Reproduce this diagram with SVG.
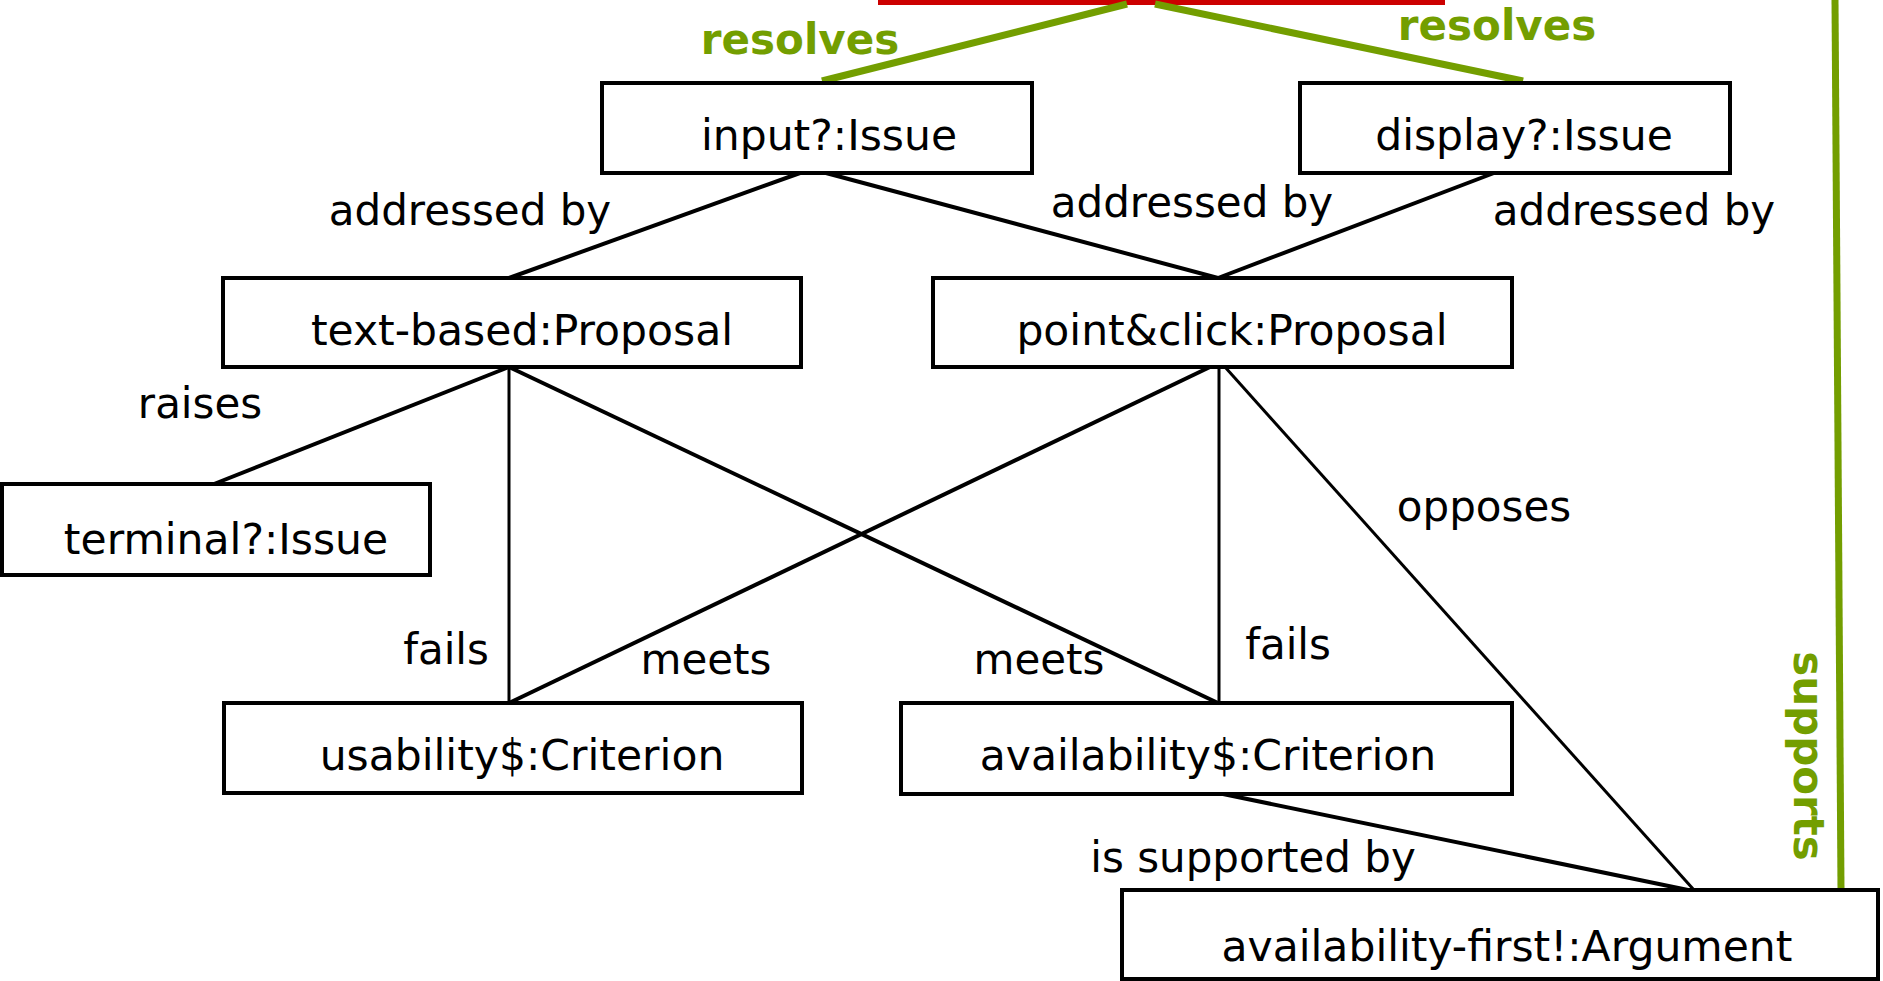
<svg xmlns="http://www.w3.org/2000/svg" width="1883" height="981" viewBox="0 0 1883 981">
<style>
  .box { fill: #ffffff; stroke: #000000; stroke-width: 4; }
  .nt { font-family: "DejaVu Sans", Verdana, sans-serif; font-size: 42.5px; fill: #000000; text-anchor: middle; }
  .lbl { font-family: "DejaVu Sans", Verdana, sans-serif; font-size: 42px; fill: #000000; text-anchor: middle; }
  .glbl { font-family: "DejaVu Sans", Verdana, sans-serif; font-size: 42px; font-weight: bold; fill: #739e00; text-anchor: middle; }
  .e { stroke: #000000; stroke-width: 4; fill: none; }
  .e3 { stroke: #000000; stroke-width: 3; fill: none; }
  .g { stroke: #739e00; stroke-width: 7; fill: none; }
</style>
<rect x="0" y="0" width="1883" height="981" fill="#ffffff"/>
<rect x="878" y="0" width="567" height="5" fill="#cc0000"/>
<g id="connectors">
  <line class="g" x1="1127" y1="4" x2="822" y2="81"/>
  <line class="g" x1="1155" y1="4" x2="1523" y2="81"/>
  <line class="g" x1="1835" y1="0" x2="1841" y2="890"/>
  <line class="e" x1="800" y1="173" x2="509" y2="278"/>
  <line class="e" x1="826" y1="173" x2="1218" y2="278"/>
  <line class="e" x1="1494" y1="173" x2="1218" y2="278"/>
  <line class="e" x1="509" y1="367" x2="214" y2="484"/>
  <line class="e3" x1="509" y1="367" x2="509" y2="703"/>
  <line class="e" x1="509" y1="367" x2="1218" y2="703"/>
  <line class="e" x1="1210" y1="367" x2="509" y2="703"/>
  <line class="e3" x1="1219" y1="367" x2="1219" y2="703"/>
  <line class="e3" x1="1225" y1="367" x2="1694" y2="890"/>
  <line class="e" x1="1223" y1="794" x2="1688" y2="890"/>
  <text class="glbl" x="800" y="54">resolves</text>
  <text class="glbl" x="1497" y="40">resolves</text>
  <text class="glbl" transform="translate(1794,756) rotate(90)" x="0" y="0">supports</text>
  <text class="lbl" x="470" y="225">addressed by</text>
  <text class="lbl" x="1192" y="217">addressed by</text>
  <text class="lbl" x="1634" y="225">addressed by</text>
  <text class="lbl" x="200" y="418">raises</text>
  <text class="lbl" x="1484" y="521">opposes</text>
  <text class="lbl" x="446" y="664">fails</text>
  <text class="lbl" x="706" y="674">meets</text>
  <text class="lbl" x="1039" y="674">meets</text>
  <text class="lbl" x="1288" y="659">fails</text>
  <text class="lbl" x="1253" y="872">is supported by</text>
</g>
<g id="input-issue">
  <rect class="box" x="602" y="83" width="430" height="90"/>
  <text class="nt" x="829" y="150">input?:Issue</text>
</g>
<g id="display-issue">
  <rect class="box" x="1300" y="83" width="430" height="90"/>
  <text class="nt" x="1524" y="150">display?:Issue</text>
</g>
<g id="text-based-proposal">
  <rect class="box" x="223" y="278" width="578" height="89"/>
  <text class="nt" x="522" y="345">text-based:Proposal</text>
</g>
<g id="point-click-proposal">
  <rect class="box" x="933" y="278" width="579" height="89"/>
  <text class="nt" x="1232" y="345">point&amp;click:Proposal</text>
</g>
<g id="terminal-issue">
  <rect class="box" x="2" y="484" width="428" height="91"/>
  <text class="nt" x="226" y="554">terminal?:Issue</text>
</g>
<g id="usability-criterion">
  <rect class="box" x="224" y="703" width="578" height="90"/>
  <text class="nt" x="522" y="770">usability$:Criterion</text>
</g>
<g id="availability-criterion">
  <rect class="box" x="901" y="703" width="611" height="91"/>
  <text class="nt" x="1208" y="770">availability$:Criterion</text>
</g>
<g id="availability-first-argument">
  <rect class="box" x="1122" y="890" width="756" height="89"/>
  <text class="nt" x="1507" y="961">availability-first!:Argument</text>
</g>
</svg>
